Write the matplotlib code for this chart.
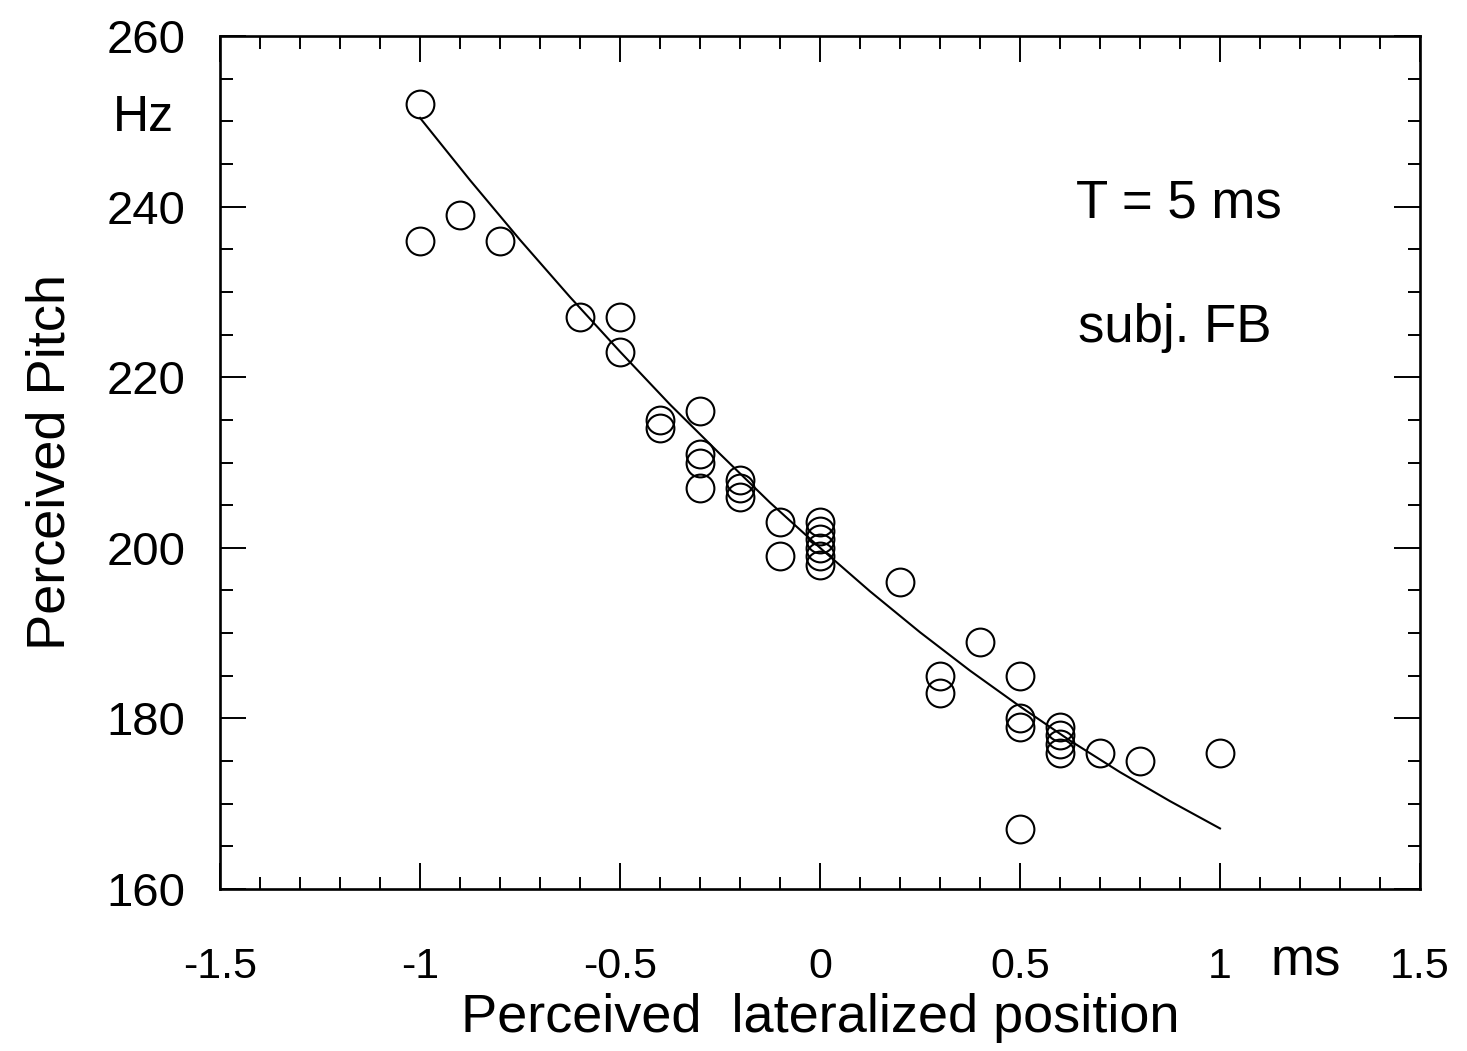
import matplotlib
matplotlib.use("Agg")
import matplotlib.pyplot as plt
from matplotlib.ticker import MultipleLocator, FixedLocator

plt.rcParams['font.family'] = ['Liberation Sans', 'DejaVu Sans']

# Data
pos_x = [-1.0, -1.0, -0.9, -0.8, -0.6, -0.5, -0.5, -0.4, -0.4,
         -0.3, -0.3, -0.3, -0.3, -0.2, -0.2, -0.2, -0.1, -0.1,
         0.0, 0.0, 0.0, 0.0, 0.0, 0.0,
         0.2, 0.3, 0.3, 0.4, 0.5, 0.5, 0.5, 0.5,
         0.6, 0.6, 0.6, 0.6, 0.7, 0.8, 1.0]
pitch = [252, 236, 239, 236, 227, 227, 223, 215, 214,
         216, 211, 210, 207, 208, 207, 206, 203, 199,
         203, 202, 201, 200, 199, 198,
         196, 185, 183, 189, 185, 180, 179, 167,
         179, 178, 177, 176, 176, 175, 176]

# fitted curve
fit_x = [-1.0, -0.875, -0.75, -0.625, -0.5, -0.375, -0.25, -0.125, 0.0,
         0.125, 0.25, 0.375, 0.5, 0.625, 0.75, 0.875, 1.0]
fit_y = [250.4, 243.1, 236.1, 229.4, 223.0, 216.8, 211.0, 205.3, 200.0,
         194.9, 190.1, 185.6, 181.4, 177.4, 173.7, 170.3, 167.1]

x_ticks = [-1.5, -1, -0.5, 0, 0.5, 1, 1.5]
x_tick_labels = ['-1.5', '-1', '-0.5', '0', '0.5', '1', '1.5']
y_ticks = [160, 180, 200, 220, 240, 260]

fig = plt.figure(figsize=(14.67, 10.51), dpi=100)
ax = fig.add_axes([220/1467, 1-889/1051, 1200/1467, 853/1051])

ax.plot(fit_x, fit_y, color='black', lw=1.5, zorder=2)
ax.plot(pos_x, pitch, linestyle='none', marker='o', markersize=20,
        markerfacecolor='none', markeredgecolor='black', markeredgewidth=1.5, zorder=3)

ax.set_xlim(-1.5, 1.5)
ax.set_ylim(160, 260)
ax.xaxis.set_major_locator(FixedLocator(x_ticks))
ax.set_xticklabels(x_tick_labels)
ax.xaxis.set_minor_locator(MultipleLocator(0.1))
ax.yaxis.set_major_locator(FixedLocator(y_ticks))
ax.yaxis.set_minor_locator(MultipleLocator(5))

ax.tick_params(which='both', direction='in', top=True, right=True, width=1.4)
ax.tick_params(which='major', length=19)
ax.tick_params(which='minor', length=9)
ax.tick_params(axis='x', which='major', labelsize=31, pad=42)
ax.tick_params(axis='y', which='major', labelsize=34, pad=25)
for s in ax.spines.values():
    s.set_linewidth(1.9)

ax.set_xlabel('Perceived  lateralized position', fontsize=39, labelpad=4)
ax.set_ylabel('Perceived Pitch', fontsize=39, labelpad=22)

fig.text(143/1467, 1-118/1051, 'Hz', fontsize=36, ha='center', va='center')
fig.text(1306/1467, 1-961/1051, 'ms', fontsize=38, ha='center', va='center')
fig.text(1179/1467, 1-203/1051, 'T = 5 ms', fontsize=38, ha='center', va='center')
fig.text(1175/1467, 1-328/1051, 'subj. FB', fontsize=38, ha='center', va='center')

fig.savefig('out.png', dpi=100)
